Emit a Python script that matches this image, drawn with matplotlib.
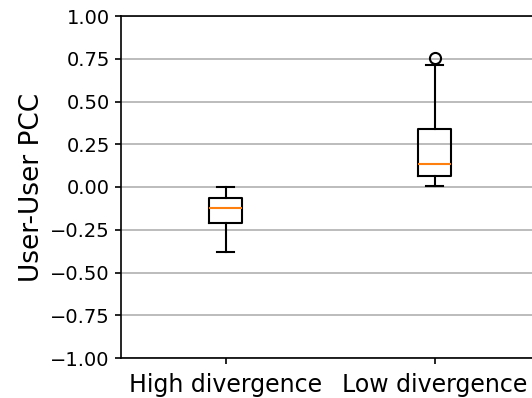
import matplotlib
matplotlib.use("Agg")
import matplotlib.pyplot as plt

groups = ["High divergence", "Low divergence"]
whisker_low = [-0.38, 0.006]
quartile_1 = [-0.212, 0.066]
medians = [-0.125, 0.134]
quartile_3 = [-0.066, 0.337]
whisker_high = [0.0, 0.713]
outliers = [[], [0.753]]
y_ticks = [-1.0, -0.75, -0.5, -0.25, 0.0, 0.25, 0.5, 0.75, 1.0]

stats = [
    {"label": g, "whislo": lo, "q1": q1, "med": m, "q3": q3, "whishi": hi, "fliers": fl}
    for g, lo, q1, m, q3, hi, fl in zip(groups, whisker_low, quartile_1, medians,
                                         quartile_3, whisker_high, outliers)
]

fig = plt.figure(figsize=(5.32, 3.98), dpi=100)
# axes runs a little past the right edge, as in the cropped original
ax = fig.add_axes([121 / 532, 40 / 398, 418 / 532, 342 / 398])
ax.bxp(stats, positions=[1, 2], widths=0.16,
       boxprops={"linewidth": 1.5}, whiskerprops={"linewidth": 1.5},
       capprops={"linewidth": 1.5}, medianprops={"color": "#ff7f0e", "linewidth": 1.5},
       flierprops={"markersize": 8, "markeredgewidth": 1.5})
ax.set_xlim(0.5, 2.5)
ax.set_ylim(-1.0, 1.0)
ax.set_yticks(y_ticks)
ax.yaxis.grid(True, color="#b0b0b0", linewidth=1.2)
ax.set_axisbelow(True)
ax.tick_params(axis="both", length=4.5, width=1.2)
ax.tick_params(axis="y", labelsize=14)
ax.tick_params(axis="x", labelsize=17, pad=6)
ax.set_ylabel("User-User PCC", fontsize=19)
for s in ax.spines.values():
    s.set_linewidth(1.2)

fig.savefig("out.png", dpi=100)
